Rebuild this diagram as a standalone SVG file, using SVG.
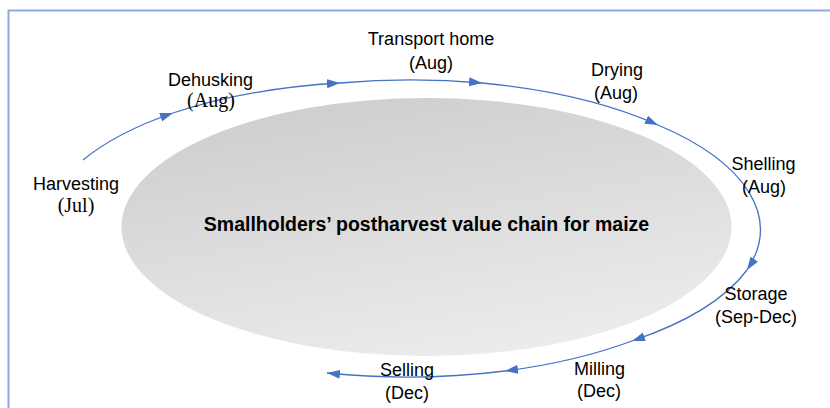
<svg xmlns="http://www.w3.org/2000/svg" width="830" height="408" viewBox="0 0 830 408">
  <style>
    .lbl { font-family: "Liberation Sans", Arial, sans-serif; font-size: 18px; fill: #000; text-anchor: middle; }
    .ser { font-family: "Liberation Serif", "Times New Roman", serif; font-size: 20px; fill: #000; text-anchor: middle; }
    .title { font-family: "Liberation Sans", Arial, sans-serif; font-size: 19.5px; font-weight: bold; fill: #000; text-anchor: middle; }
    .conn { fill: none; stroke: #4472C4; stroke-width: 1.3; marker-end: url(#arrow); }
  </style>
  <defs>
    <linearGradient id="grey" x1="0.3" y1="0" x2="0.7" y2="1">
      <stop offset="0" stop-color="#cecece"/>
      <stop offset="1" stop-color="#ededed"/>
    </linearGradient>
    <marker id="arrow" markerUnits="userSpaceOnUse" markerWidth="14" markerHeight="10" refX="13" refY="4.5" orient="auto">
      <path d="M0,0 L13,4.5 L0,9 z" fill="#4472C4"/>
    </marker>
  </defs>
  <rect x="0" y="0" width="830" height="408" fill="#fff"/>
  <g id="frame">
    <rect x="8.5" y="10.5" width="840" height="420" fill="none" stroke="#8FAADC" stroke-width="2"/>
  </g>
  <g id="center">
    <ellipse cx="426.5" cy="227" rx="305" ry="129" fill="url(#grey)"/>
    <text class="title" x="426.5" y="231">Smallholders’ postharvest value chain for maize</text>
  </g>
  <g id="connectors">
    <path class="conn" d="M83,160 A347,147.5 0 0 1 173,113"/>
    <path class="conn" d="M173,113 A347,147.5 0 0 1 340,83"/>
    <path class="conn" d="M340,83 A347,147.5 0 0 1 482,83"/>
    <path class="conn" d="M482,83 A347,147.5 0 0 1 658,125"/>
    <path class="conn" d="M658,125 A347,147.5 0 0 1 747,270"/>
    <path class="conn" d="M747,270 A347,147.5 0 0 1 632,341"/>
    <path class="conn" d="M632,341 A347,147.5 0 0 1 505,371"/>
    <path class="conn" d="M505,371 A347,147.5 0 0 1 327,373"/>
  </g>
  <g id="harvesting">
    <text class="lbl" x="76" y="190">Harvesting</text>
    <text class="ser" x="76" y="212">(Jul)</text>
  </g>
  <g id="dehusking">
    <text class="lbl" x="210.5" y="86">Dehusking</text>
    <text class="ser" x="211" y="107">(Aug)</text>
  </g>
  <g id="transport">
    <text class="lbl" x="431" y="45">Transport home</text>
    <text class="lbl" x="431" y="69">(Aug)</text>
  </g>
  <g id="drying">
    <text class="lbl" x="617" y="76">Drying</text>
    <text class="lbl" x="616" y="99">(Aug)</text>
  </g>
  <g id="shelling">
    <text class="lbl" x="763.5" y="170">Shelling</text>
    <text class="lbl" x="764" y="193">(Aug)</text>
  </g>
  <g id="storage">
    <text class="lbl" x="756" y="300">Storage</text>
    <text class="lbl" x="756" y="323">(Sep-Dec)</text>
  </g>
  <g id="milling">
    <text class="lbl" x="599.5" y="375">Milling</text>
    <text class="lbl" x="599" y="397">(Dec)</text>
  </g>
  <g id="selling">
    <text class="lbl" x="407" y="376">Selling</text>
    <text class="lbl" x="407" y="399">(Dec)</text>
  </g>
</svg>
